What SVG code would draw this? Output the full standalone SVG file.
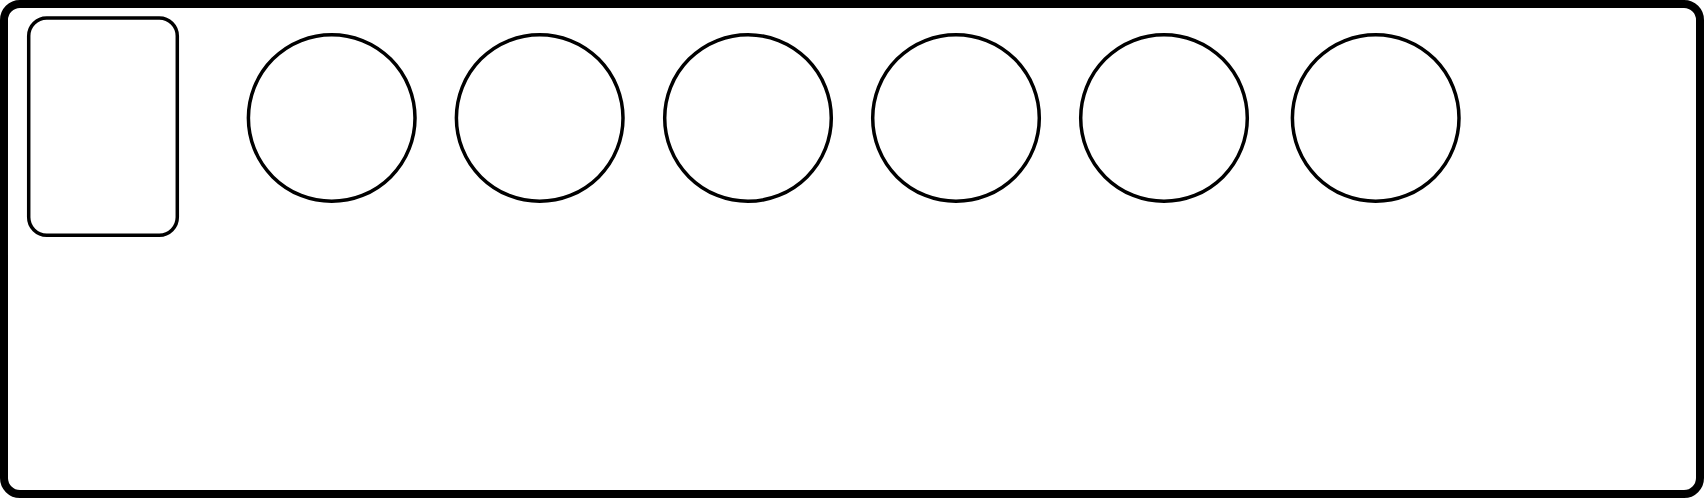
<svg xmlns="http://www.w3.org/2000/svg" width="1704" height="498" viewBox="0 0 1704 498">
<style>
.n{fill:#fff;stroke:#000;stroke-width:3.5}
</style>
<rect width="1704" height="498" fill="#fff"/>
<g id="frame"><rect x="4" y="4" width="1696" height="490" rx="16" ry="16" fill="#fff" stroke="#000" stroke-width="8"/></g>
<g id="box"><rect class="n" x="28.7" y="18" width="148.6" height="217.3" rx="18" ry="18"/></g>
<g id="c1"><circle class="n" cx="331.7" cy="118" r="83.3"/></g>
<g id="c2"><circle class="n" cx="539.7" cy="118" r="83.3"/></g>
<g id="c3"><circle class="n" cx="748" cy="118" r="83.3"/></g>
<g id="c4"><circle class="n" cx="956" cy="118" r="83.3"/></g>
<g id="c5"><circle class="n" cx="1164" cy="118" r="83.3"/></g>
<g id="c6"><circle class="n" cx="1375.7" cy="118" r="83.3"/></g>
<g id="connectors"></g>
</svg>
